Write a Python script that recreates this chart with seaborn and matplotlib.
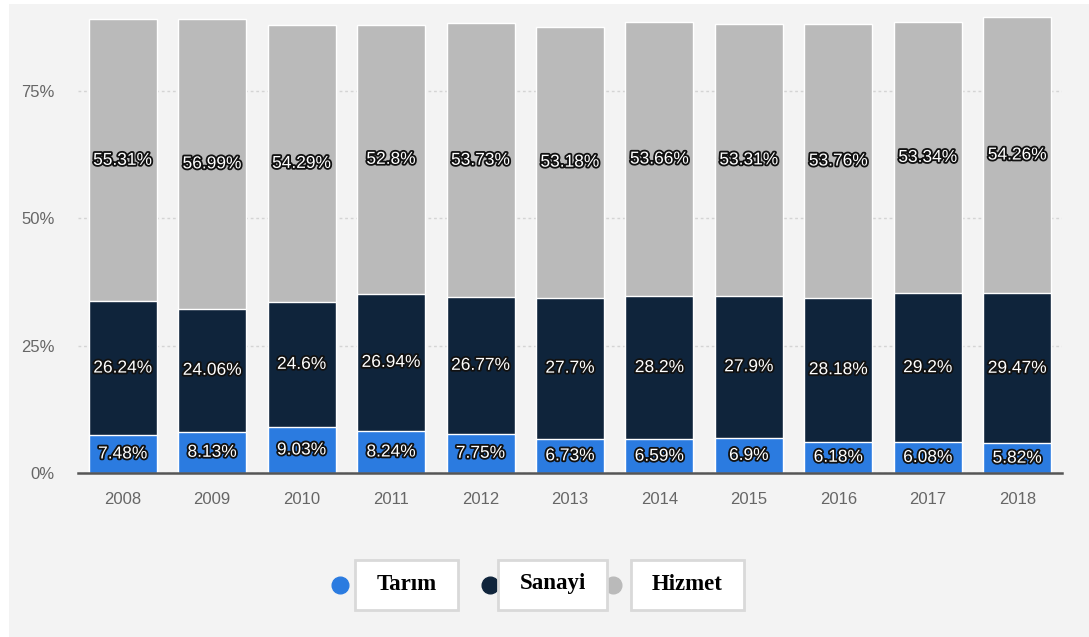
import numpy as np
import pandas as pd
import seaborn as sns
import matplotlib
matplotlib.use("Agg")
import matplotlib.pyplot as plt
import matplotlib.patheffects as pe
from matplotlib.patches import Rectangle
from matplotlib.lines import Line2D

# Sector shares of employment by year (%)
years = ["2008", "2009", "2010", "2011", "2012", "2013", "2014", "2015", "2016", "2017", "2018"]
tarim = [7.48, 8.13, 9.03, 8.24, 7.75, 6.73, 6.59, 6.9, 6.18, 6.08, 5.82]
sanayi = [26.24, 24.06, 24.6, 26.94, 26.77, 27.7, 28.2, 27.9, 28.18, 29.2, 29.47]
hizmet = [55.31, 56.99, 54.29, 52.8, 53.73, 53.18, 53.66, 53.31, 53.76, 53.34, 54.26]
series_names = ["Tarım", "Sanayi", "Hizmet"]
series_colors = ["#2b7be0", "#0f243b", "#bababa"]
y_ticks = [0, 25, 50, 75]

df = pd.DataFrame({"year": years, "Tarım": tarim, "Sanayi": sanayi, "Hizmet": hizmet})

sns.set_theme(style="white")
plt.rcParams["font.family"] = ["Liberation Sans", "DejaVu Sans"]

W, H = 1089, 637
fig = plt.figure(figsize=(W / 100, H / 100), dpi=100, facecolor="white")

# light background panel, kept behind the axes
fig.patches.append(Rectangle((9 / W, 0), (W - 9) / W, (H - 4) / H,
                             transform=fig.transFigure, facecolor="#f3f3f3",
                             edgecolor="none", zorder=-5))

ax = fig.add_axes([78 / W, (H - 473) / H, (1062 - 78) / W, (473 - 12) / H])
ax.set_facecolor("none")

# stacked bars: draw cumulative totals from the top layer down
bottoms = np.zeros(len(years))
cums = []
for name in series_names:
    bottoms = bottoms + df[name].to_numpy()
    cums.append(bottoms.copy())

for name, color, cum in reversed(list(zip(series_names, series_colors, cums))):
    sns.barplot(x=df["year"], y=cum, color=color, saturation=1, width=0.76,
                order=years, edgecolor="white", linewidth=1, ax=ax, zorder=2)

# value labels centred in each segment
stroke = [pe.withStroke(linewidth=2.6, foreground="#111111")]
base = np.zeros(len(years))
for name in series_names:
    vals = df[name].to_numpy()
    for i, v in enumerate(vals):
        ax.text(i, base[i] + v / 2, f"{v:g}%", ha="center", va="center",
                color="white", fontsize=12.5, path_effects=stroke, zorder=5)
    base = base + vals

ax.set_xlim(-0.5, len(years) - 0.5)
ax.set_ylim(0, 90.5)
ax.set_yticks(y_ticks)
ax.set_yticklabels([f"{t}%" for t in y_ticks])
ax.set_xlabel("")
ax.set_ylabel("")
ax.tick_params(axis="y", length=0, pad=17, labelsize=12, labelcolor="#666666")
ax.tick_params(axis="x", length=0, pad=14, labelsize=12, labelcolor="#666666")
ax.yaxis.grid(True, linestyle=(0, (2, 2)), color="#d4d4d4", linewidth=1)
ax.set_axisbelow(True)
for s in ["top", "right", "left"]:
    ax.spines[s].set_visible(False)
ax.spines["bottom"].set_color("#555555")
ax.spines["bottom"].set_linewidth(1.8)
ax.spines["bottom"].set_zorder(6)

# legend: coloured dot followed by a boxed label
legend_items = [
    (340, 355, 458),
    (490, 498, 607),
    (613, 631, 744),
]
box_top, box_bot = 560, 610
for (dot_x, bx0, bx1), name, color in zip(legend_items, series_names, series_colors):
    fig.lines.append(Line2D([dot_x / W], [1 - 585 / H], marker="o", markersize=12,
                            color=color, linestyle="none", transform=fig.transFigure,
                            zorder=3))
    fig.patches.append(Rectangle((bx0 / W, 1 - box_bot / H), (bx1 - bx0) / W,
                                 (box_bot - box_top) / H, transform=fig.transFigure,
                                 facecolor="white", edgecolor="#d9d9d9", linewidth=2,
                                 zorder=4))
    fig.text((bx0 + bx1) / 2 / W, 1 - 584 / H, name, ha="center", va="center",
             fontsize=16.5, fontweight="bold", family=["Liberation Serif", "DejaVu Serif"],
             color="black", zorder=5)

fig.savefig("out.png", dpi=100, facecolor=fig.get_facecolor())
